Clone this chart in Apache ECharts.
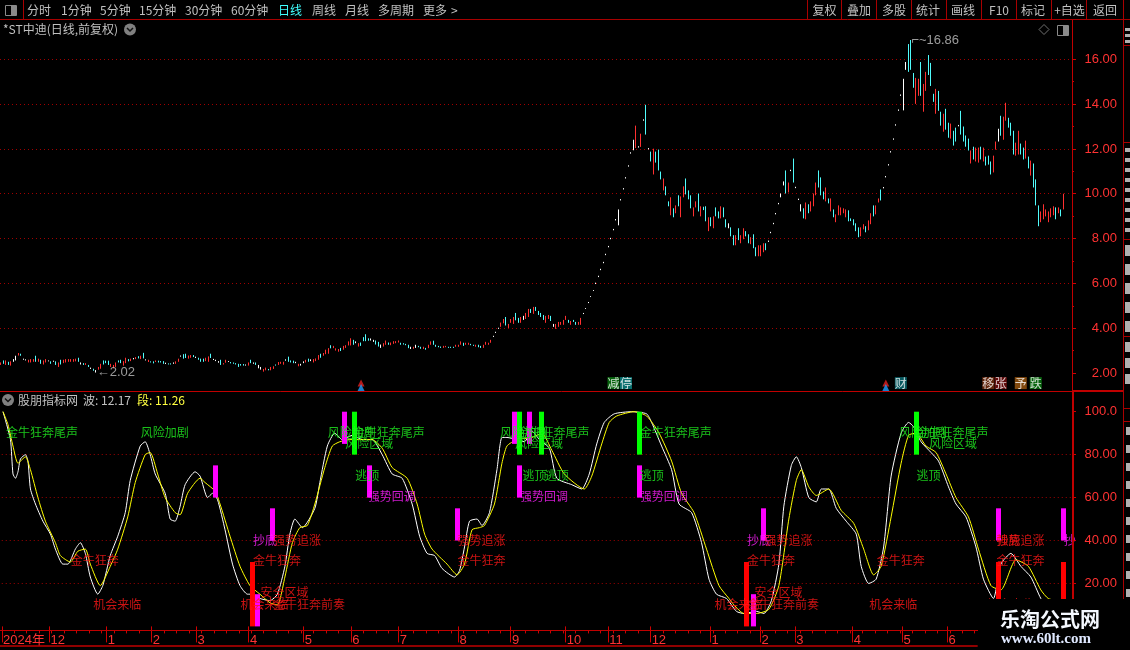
<!DOCTYPE html>
<html><head><meta charset="utf-8">
<style>html,body{margin:0;padding:0;background:#000}#c{width:1130px;height:650px}</style>
<script src="https://cdn.jsdelivr.net/npm/echarts@6/dist/echarts.min.js"></script>
</head><body><div id="c"></div>
<script>
// ---- price bars: [low, high, direction] direction 1 up, -1 down, 0 flat
const priceBarsA=[[2.36,2.47,1],[2.41,2.56,-1],[2.36,2.56,1],[2.36,2.50,-1],[2.33,2.52,1],[2.50,2.62,0],[2.56,2.77,0],[2.78,2.89,1],[2.77,2.86,-1],[2.59,2.64,0],[2.56,2.61,0],[2.47,2.59,1],[2.47,2.62,1],[2.50,2.62,1],[2.50,2.77,-1],[2.50,2.64,1],[2.41,2.59,-1],[2.38,2.56,1],[2.47,2.62,1],[2.52,2.56,0],[2.41,2.52,-1],[2.50,2.55,0],[2.36,2.52,-1],[2.27,2.47,1],[2.38,2.59,-1],[2.44,2.59,1],[2.47,2.62,1],[2.50,2.62,1],[2.50,2.62,1],[2.50,2.62,1],[2.52,2.64,1],[2.50,2.68,-1],[2.38,2.47,0],[2.36,2.44,-1],[2.36,2.44,1],[2.27,2.36,-1],[2.18,2.24,0],[2.10,2.19,-1],[2.02,2.13,0],[2.15,2.27,1],[2.19,2.41,1],[2.38,2.56,-1],[2.44,2.55,-1],[2.36,2.55,-1],[2.27,2.41,1],[2.21,2.36,1],[2.27,2.47,1],[2.47,2.56,-1],[2.44,2.59,-1],[2.33,2.53,1],[2.44,2.68,1],[2.52,2.62,-1],[2.53,2.64,1],[2.61,2.67,0],[2.62,2.71,1],[2.65,2.75,-1],[2.62,2.77,1],[2.65,2.90,-1],[2.56,2.61,0],[2.49,2.59,1],[2.47,2.52,-1],[2.43,2.52,-1],[2.49,2.56,1],[2.47,2.55,-1],[2.47,2.53,-1],[2.41,2.53,-1],[2.40,2.46,0],[2.38,2.43,-1],[2.38,2.43,-1],[2.41,2.47,0],[2.41,2.52,1],[2.50,2.64,1],[2.73,2.78,0],[2.64,2.84,-1],[2.67,2.86,-1],[2.64,2.78,1],[2.68,2.80,1],[2.71,2.80,-1],[2.67,2.73,0],[2.59,2.68,-1],[2.50,2.64,-1],[2.50,2.64,-1],[2.53,2.68,1],[2.50,2.74,1],[2.67,2.86,-1],[2.58,2.63,0],[2.53,2.59,0],[2.46,2.53,0],[2.36,2.59,-1],[2.38,2.44,1],[2.46,2.59,1],[2.49,2.53,0],[2.43,2.49,-1],[2.41,2.47,-1],[2.38,2.44,-1],[2.27,2.41,-1],[2.33,2.40,-1],[2.33,2.40,-1],[2.33,2.38,0],[2.33,2.47,1],[2.44,2.59,-1],[2.41,2.47,0],[2.36,2.47,-1],[2.21,2.36,0],[2.15,2.27,0],[2.06,2.18,1],[2.12,2.24,1],[2.12,2.18,-1],[2.12,2.27,1],[2.18,2.30,1],[2.33,2.38,-1],[2.36,2.49,1],[2.41,2.50,1],[2.37,2.50,1],[2.55,2.61,0],[2.50,2.73,-1],[2.47,2.56,-1],[2.44,2.55,-1],[2.44,2.50,0],[2.30,2.41,1],[2.33,2.41,0],[2.44,2.52,0],[2.47,2.59,1],[2.50,2.64,-1],[2.53,2.61,0],[2.47,2.62,1],[2.53,2.65,1],[2.59,2.80,1],[2.68,2.86,-1],[2.77,2.89,1],[2.84,3.04,1],[2.86,3.11,1],[3.10,3.24,-1],[3.11,3.21,1],[3.00,3.10,1],[2.95,3.07,1],[2.98,3.12,-1],[3.04,3.21,1],[3.12,3.24,1],[3.23,3.41,1],[3.23,3.55,1],[3.26,3.48,-1],[3.33,3.41,0],[3.18,3.33,1],[3.21,3.36,-1],[3.42,3.60,-1],[3.42,3.73,-1],[3.44,3.55,-1],[3.45,3.54,0],[3.39,3.48,0],[3.27,3.45,-1],[3.18,3.39,-1],[3.12,3.27,0],[3.18,3.33,1],[3.26,3.45,1],[3.26,3.36,-1],[3.24,3.36,1],[3.30,3.42,1],[3.33,3.42,1],[3.36,3.45,1]];
const priceBarsB=[[3.26,3.35,-1],[3.27,3.33,-1],[3.24,3.30,-1],[3.11,3.26,-1],[3.07,3.17,0],[3.08,3.17,1],[3.12,3.26,0],[3.15,3.21,-1],[3.08,3.17,-1],[3.07,3.17,1],[3.04,3.12,-1],[3.11,3.26,1],[3.26,3.41,1],[3.26,3.44,-1],[3.17,3.26,-1],[3.15,3.21,-1],[3.12,3.18,-1],[3.12,3.21,1],[3.15,3.21,1],[3.12,3.17,-1],[3.12,3.17,-1],[3.12,3.17,-1],[3.17,3.26,1],[3.17,3.26,1],[3.26,3.41,1],[3.21,3.35,-1],[3.26,3.35,1],[3.26,3.35,1],[3.24,3.30,-1],[3.21,3.26,-1],[3.17,3.26,1],[3.15,3.26,-1],[3.12,3.21,-1],[3.12,3.26,1],[3.26,3.39,1],[3.26,3.35,1],[3.35,3.48,1],[3.61,3.66,0],[3.79,3.84,0],[3.97,4.02,0],[4.06,4.25,1],[4.22,4.41,1],[4.12,4.50,-1],[4.01,4.19,1],[4.24,4.41,1],[4.19,4.50,1],[4.35,4.68,-1],[4.24,4.46,-1],[4.24,4.50,1],[4.37,4.55,0],[4.41,4.68,1],[4.50,4.86,1],[4.68,4.86,-1],[4.64,4.95,1],[4.77,4.95,-1],[4.59,4.77,-1],[4.50,4.68,-1],[4.37,4.59,-1],[4.24,4.55,1],[4.41,4.59,1],[4.32,4.55,-1],[4.06,4.19,0],[3.97,4.19,1],[4.06,4.28,1],[4.15,4.28,1],[4.15,4.37,1],[4.37,4.55,1],[4.24,4.37,-1],[4.15,4.32,1],[4.28,4.37,-1],[4.15,4.28,-1],[4.15,4.28,1],[4.15,4.46,1],[4.63,4.68,0],[4.86,4.90,0],[5.12,5.17,0],[5.39,5.43,0],[5.66,5.70,0]];
const priceBarsC=[[5.97,6.03,0],[6.28,6.34,0],[6.59,6.65,0],[6.90,6.96,0],[7.26,7.32,0],[7.61,7.67,0],[7.97,8.03,0],[8.37,8.43,0],[8.81,8.87,0],[8.59,9.30,0],[9.70,9.76,0],[10.19,10.25,0],[10.68,10.74,0],[11.21,11.27,0],[11.79,11.85,0],[11.94,12.41,0],[12.04,13.04,1],[12.06,12.12,0],[12.09,12.68,1],[13.26,13.32,0],[12.64,13.97,-1],[11.98,12.04,0],[11.44,11.88,-1],[10.86,12.01,1],[11.39,11.88,-1],[11.04,11.97,-1],[10.64,10.99,-1],[10.15,10.68,1],[9.93,10.33,-1],[9.44,9.66,-1],[9.04,9.84,1]];
const priceBarsD=[[8.95,9.35,-1],[9.13,9.48,1],[9.44,9.93,-1],[8.95,9.88,1],[9.84,10.33,1],[9.97,10.68,-1],[9.75,10.15,-1],[9.35,9.93,-1],[8.99,9.39,1],[9.39,9.66,1],[9.21,10.01,-1],[8.99,9.44,1],[9.27,9.42,-1],[8.77,9.44,-1],[8.33,8.95,1],[8.55,8.95,-1],[8.46,8.99,1],[8.99,9.39,-1],[8.90,9.21,-1],[8.90,9.44,1],[8.95,9.39,-1],[8.50,8.86,-1],[8.46,8.68,0],[8.10,8.50,-1],[7.70,8.15,-1],[7.70,8.15,1],[7.93,8.46,-1],[7.79,8.15,1],[7.97,8.46,1],[8.10,8.33,-1],[7.79,8.19,-1],[7.75,8.06,1],[7.57,8.19,-1],[7.21,7.61,-1],[7.21,7.70,1],[7.21,7.70,1],[7.39,7.79,1],[7.48,7.79,-1],[7.85,7.91,0],[8.24,8.30,0],[8.64,8.70,0],[9.08,9.14,0],[9.53,9.59,0],[9.84,10.01,0],[10.37,10.55,0],[10.01,11.04,-1],[10.06,10.50,1],[11.01,11.07,0],[10.50,11.57,-1],[10.25,10.31,0],[9.72,9.78,0],[9.21,9.53,0],[8.90,9.35,-1],[8.86,9.61,1],[9.13,9.53,-1],[9.21,9.66,1],[9.44,10.01,1],[9.93,10.50,1],[10.28,11.04,-1],[9.93,10.73,-1],[9.75,10.10,-1],[9.66,10.28,1],[9.57,9.79,-1],[9.21,9.79,1],[8.95,9.30,-1],[8.73,9.08,1],[9.04,9.48,1],[9.04,9.39,1],[9.13,9.35,1],[8.95,9.30,1],[8.77,9.26,-1],[8.78,8.90,-1],[8.59,8.86,-1],[8.33,8.68,-1],[8.06,8.50,-1],[8.10,8.50,1],[8.41,8.64,1],[8.28,8.55,-1],[8.37,8.81,1],[8.64,9.13,1],[8.99,9.48,-1],[9.08,9.48,1],[9.61,9.79,1],[9.70,10.19,-1]];
const priceBarsE=[[10.24,10.30,0],[10.73,10.79,0],[11.26,11.32,0],[11.84,11.90,0],[12.41,12.47,0],[13.04,13.10,0],[13.70,13.76,0],[14.37,14.43,0],[13.72,15.13,0],[15.53,15.88,0],[15.44,16.68,-1],[15.53,16.86,-1],[14.73,15.39,-1],[14.01,15.17,1],[14.37,15.13,1],[14.37,15.88,-1],[13.66,14.90,1],[14.59,15.44,1],[15.30,16.19,-1],[14.81,15.84,-1],[14.10,14.46,-1],[13.57,14.68,1],[13.70,14.59,-1],[13.04,13.66,-1],[12.77,13.57,1],[12.86,13.79,-1],[12.50,13.17,-1],[12.46,13.13,1],[12.15,12.81,-1],[12.33,12.95,-1],[13.01,13.07,0],[12.64,13.70,-1],[12.33,13.00,-1],[12.10,12.60,-1],[11.93,12.46,-1],[11.35,11.93,1],[11.53,12.10,-1],[11.44,12.06,1],[11.39,12.06,1],[11.53,12.10,-1],[11.44,12.06,1],[11.26,11.66,-1],[11.30,11.70,-1],[10.86,11.44,-1],[10.95,11.70,1],[11.97,12.33,1],[12.33,12.90,0],[12.59,13.48,-1],[12.41,13.44,1],[13.26,14.06,1],[12.95,13.39,-1],[12.59,13.17,-1],[11.75,12.81,-1],[11.70,12.28,1],[11.75,12.81,1],[11.75,12.24,-1],[11.53,12.06,-1],[11.57,12.37,1],[11.13,11.66,-1],[10.81,11.48,1],[10.28,11.35,-1],[9.48,10.64,-1],[8.55,9.48,-1],[8.73,9.21,1],[8.86,9.53,1],[8.99,9.30,1],[8.73,9.21,1],[8.95,9.35,1],[9.04,9.44,1],[8.86,9.39,-1],[9.13,9.39,1],[8.99,9.30,-1],[9.30,10.00,1]];

// ---- indicator lines, read at turning points: bar index and value
const waveIdx=[0,1,3,4,5,6,7,9,10,11,13,16,19,21,24,26,29,31,33,35,38,40,43,46,49,51,55,57,59,61,65,67,69,71,73,77,79,82,84,86,89,92,95,98,100,103,107,110,113,115,117,120,125,127,130,133,136,140,144,148,152,156,160,164,167,170,173,176,181,183,185,187,190,192,195,198,200,202,206,209,212,215,219,222,228,232,235,238,241,245,252,258,260,264,268,271,276,280,283,286,290,294,297,302,305,308,311,313,316,318,320,323,326,328,331,334,338,342,344,347,350,353,356,360,363,365,368,372,375,379,382,386,390,393,397,400,404,408,412,416,420,425];
const waveVal=[100,96,87,71,69,72,78,80,77,64,57,49,43,36,29,29,36,39,34,23,15,19,33,42,53,68,84,86,80,71,62,50,49,56,66,72,70,60,62,59,45,29,19,15,15,13,12,15,28,43,50,46,55,67,84,90,87,89,87,87,80,71,69,57,42,34,33,27,23,26,37,49,50,47,53,73,88,88,87,86,91,87,83,69,66,64,71,85,95,99,100,99,95,84,73,57,53,39,22,15,13,7,6,7,6,12,29,56,75,79,74,60,58,64,64,55,49,43,28,20,22,37,70,90,95,93,86,81,77,65,57,51,37,22,13,29,34,28,23,13,6,12.17];
const segIdx=[0,2,4,6,9,11,14,17,21,23,27,30,33,35,39,43,46,50,53,57,59,62,65,69,71,74,79,81,85,87,91,95,99,103,107,110,113,116,119,122,125,129,132,135,139,144,148,152,156,162,166,169,172,178,182,185,188,191,193,197,200,202,206,212,216,220,225,233,236,240,243,246,253,258,263,268,272,277,282,287,291,293,297,302,307,311,315,318,320,323,326,331,336,341,345,349,352,356,360,363,366,370,374,378,382,387,391,396,400,406,411,416,419,425];
const segVal=[100,94,84,76,79,73,60,49,39,33,30,35,36,29,19,28,36,51,67,80,81,71,60,53,52,62,69,67,63,57,42,28,19,15,11,10,23,39,46,47,57,74,84,86,87,87,87,83,74,69,57,43,36,29,24,29,45,46,47,57,76,84,87,88,90,82,71,64,70,85,95,98,100,98,90,77,62,53,36,19,13,10,6,6,8,19,50,68,73,65,61,64,54,48,36,24,28,51,76,89,90,84,81,71,60,51,36,19,17,31,28,17,13,11.26];

// ---- signal bars of the indicator
const sigIdx =[85,100,102,108,137,141,147,182,205,207,207,211,216,255,255,298,301,305,366,399,399,425,425];
const sigLow =[60,0,0,40,85,80,60,40,85,60,80,85,80,80,60,0,0,40,80,40,0,40,0];
const sigHigh=[75,30,15,55,100,100,75,55,100,75,100,100,100,100,75,30,15,55,100,55,30,55,30];
const sigKind=['m','r','m','m','m','g','m','m','m','m','g','m','g','g','m','r','m','m','g','m','r','m','r'];

// ---- signal texts of the indicator
const noteText=['金牛狂奔尾声','风险加剧','风险加剧','金牛狂奔尾声','风险区域','逃顶','强势回调','风险加剧','金牛狂奔尾声','风险区域','逃顶','逃顶','强势回调','金牛狂奔尾声','逃顶','强势回调','金牛狂奔','机会来临','抄底','强势追涨','金牛狂奔','安全区域','机会来临','金牛狂奔前奏','强势追涨','金牛狂奔','抄底','强势追涨','金牛狂奔','安全区域','机会来临','金牛狂奔前奏','金牛狂奔','机会来临','风险加剧','金牛狂奔尾声','风险区域','逃顶','抄底','强势追涨','金牛狂奔','抄','机会来临'];
const noteIdx =[1,55,130,140,137,141,146,199,206,205,208,217,207,255,255,255,27,36,100,108,100,103,95,108,182,182,298,305,298,301,285,298,350,347,359,366,371,366,398,398,398,425,394];
const noteVal =[90.5,90.5,90.5,90.5,85.4,70.5,60.3,90.5,90.5,85.4,70.5,70.5,60.3,90.5,70.5,60.3,30.5,10.4,40.2,40.2,30.5,15.6,10.4,10.4,40.2,30.5,40.2,40.2,30.5,15.6,10.4,10.4,30.5,10.4,90.5,90.5,85.4,70.5,40.2,40.2,30.5,40.2,10.4];
const noteKind=['g','g','g','g','g','g','m','g','g','g','g','g','m','g','g','m','r','r','m','r','r','r','r','r','r','r','m','r','r','r','r','r','r','r','g','g','g','g','r','r','r','m','r'];

// ---- event tags under the price chart
const tagText=['减','停','财','移','张','予','跌'];
const tagIdx =[245,250,360,395,400,408,414];
const tagVal =[1.55,1.55,1.55,1.55,1.55,1.55,1.55];
const tagFill=['#0a7d12','#0a8a8a','#0a6f78','#7a3010','#7a1010','#a05a10','#0a7d12'];
const arrowIdx=[144,144,354,354];
const arrowVal=[1.55,1.35,1.55,1.35];
const arrowColor=['#e02020','#20a0ff','#e02020','#20a0ff'];

// ---- price extremes
const lowMark={idx:38,val:2.02,text:'←2.02'};
const highMark={idx:364,val:16.86,text:'⌐~16.86'};

// ---- axis ticks
const slotCount=429;
const monthIdx=[0,19,42,60,78,99,121,140,159,183,204,226,243,260,284,304,318,341,361,379];
const monthText=['2024年','12','1','2','3','4','5','6','7','8','9','10','11','12','1','2','3','4','5','6'];
const priceTicks={min:2,max:16,interval:2};
const oscTicks={min:0,max:100,interval:20};
const legendWave=12.17, legendSeg=11.26;

const CJK='"Noto Sans CJK SC","Liberation Sans",sans-serif';
const NUM='"Liberation Sans","Noto Sans CJK SC","DejaVu Sans",sans-serif';
const RED='#ff3232', LINE='#a80000', DOT='#a00000', GRAY='#c0c0c0';
const palette={m:'#ff00ff',g:'#00ff00',r:'#ff0000'};
const textPalette={m:'#ff20ff',g:'#20f020',r:'#ff1818'};

const cats=new Array(slotCount).fill('');
monthIdx.forEach((i,k)=>{cats[i]=monthText[k];});
const isMonth=(i)=>monthIdx.indexOf(i)>=0;
const bars=[].concat(priceBarsA,priceBarsB,priceBarsC,priceBarsD,priceBarsE);
const candle=bars.map(b=>{
  const l=b[0],h=b[1],d=b[2];
  if(d>0) return [l,h,l,h];
  if(d<0) return [h,l,l,h];
  const m=(l+h)/2; return [m,m,l,h];
});

// ---- screen furniture
function T(x,y,text,fill,opt){opt=opt||{};
  return {type:'text',silent:true,z:opt.z||50,style:{x:x,y:y,text:text,fill:fill,font:(opt.w||'normal')+' '+(opt.s||12)+'px '+(opt.f||CJK),align:opt.a||'left',verticalAlign:'middle',textAlign:opt.a||'left',textVerticalAlign:'middle'}};
}
function L(x1,y1,x2,y2,c,w,z){return {type:'line',silent:true,z:z||40,shape:{x1:x1,y1:y1,x2:x2,y2:y2},style:{stroke:c||LINE,lineWidth:w||1}};}
function R(x,y,w,h,fill,z,stroke){return {type:'rect',silent:true,z:z||40,shape:{x:x,y:y,width:w,height:h},style:{fill:fill,stroke:stroke||null}};}
const furn=[];
[['分时',27],['1分钟',61],['5分钟',100],['15分钟',139],['30分钟',185],['60分钟',231],['周线',312],['月线',345],['多周期',378],['更多',423],['>',451]].forEach(a=>furn.push(T(a[1],10,a[0],GRAY)));
furn.push(T(278,10,'日线','#40ffff'));
[['复权',824.5],['叠加',859],['多股',894],['统计',928],['画线',963],['F10',999],['标记',1033],['+自选',1069.5],['返回',1105]].forEach(a=>furn.push(T(a[1],10,a[0],GRAY,{a:'center'})));
[807,841,876,911,946,981,1016,1051,1086,1123].forEach(x=>furn.push(L(x+.5,0,x+.5,19)));
furn.push(L(23.5,0,23.5,19));
furn.push(L(0,19.5,1130,19.5));
furn.push(R(5.5,5.5,11,10,'#000',41,'#8a8a8a'),R(11,6,5,9,'#8a8a8a',42));
furn.push(R(1057.5,25.5,11,10,'#000',41,'#8a8a8a'),R(1063,26,5,9,'#8a8a8a',42));
furn.push({type:'polygon',silent:true,z:42,shape:{points:[[1044,24.5],[1049,29.5],[1044,34.5],[1039,29.5]]},style:{fill:'none',stroke:'#707070'}});
furn.push(T(3,29,'*ST中迪(日线,前复权)',GRAY));
[[130,29.5],[8,400]].forEach(p=>{
  furn.push({type:'circle',silent:true,z:42,shape:{cx:p[0],cy:p[1],r:6},style:{fill:'#808080'}});
  furn.push({type:'polyline',silent:true,z:43,shape:{points:[[p[0]-3,p[1]-1.5],[p[0],p[1]+1.5],[p[0]+3,p[1]-1.5]]},style:{fill:'none',stroke:'#111',lineWidth:1.5}});
});
furn.push(T(18,400,'股朋指标网',GRAY));
furn.push(T(83,400,'波: '+legendWave.toFixed(2),GRAY));
furn.push(T(137,400,'段: '+legendSeg.toFixed(2),'#ffff40'));
furn.push(L(1072.5,20,1072.5,630,'#c00000',1));
furn.push(L(1073.5,392,1073.5,630,'#c00000',1));
furn.push(L(1123.5,20,1123.5,599));
furn.push(L(0,391.5,1123,391.5,'#c00000',1));
furn.push(L(1073,390.5,1123,390.5,'#c00000',1));
furn.push(L(0,630.5,1123,630.5,'#c00000',1));
furn.push(L(0,646,978,646,'#c00000',1));
[45,142,239,336].forEach(y=>furn.push(L(1123,y+.5,1130,y+.5)));
[408,421].forEach(y=>furn.push(L(1123,y+.5,1130,y+.5)));
for(let y=148;y<236;y+=10) furn.push(R(1125,y,5,4,'#b0b0b0',41));
for(let y=28;y<42;y+=6) furn.push(R(1125,y,5,3,'#b0b0b0',41));
for(let y=245;y<335;y+=19) furn.push(R(1125,y,5,11,'#b0b0b0',41));
for(let y=342;y<388;y+=16) furn.push(R(1125,y,5,10,'#b0b0b0',41));
for(let y=427;y<598;y+=18) furn.push(R(1126,y,4,8,'#b0b0b0',41));
// watermark
furn.push(R(977,599,153,51,'#000',90));
furn.push(T(1050,619,'乐淘公式网','#f4f8ff',{a:'center',s:20,w:'bold',z:91}));
furn.push(T(1046,639,'www.60lt.com','#dfe8ff',{a:'center',s:15,w:'bold',f:'"Liberation Serif",serif',z:91}));
furn.push(L(0,630.5,978,630.5,'#c00000',1,92));
furn.push(L(0,646,978,646,'#c00000',1,92));

function yAxisFor(grid,t,fmt){return {
  type:'value',gridIndex:grid,position:'right',min:t.min,max:t.max,interval:t.interval,
  axisLine:{show:false},
  axisTick:{show:true,length:4,lineStyle:{color:'#d00000'}},
  minorTick:{show:true,splitNumber:2,length:2,lineStyle:{color:'#d00000'}},
  axisLabel:{color:RED,fontSize:13,fontFamily:NUM,align:'right',margin:45,formatter:fmt,showMinLabel:grid===0,showMaxLabel:true},
  splitLine:{show:true,showMinLine:false,showMaxLine:grid===0,lineStyle:{color:DOT,type:[1,3],width:1}},
};}

const option={
  backgroundColor:'#000',animation:false,
  grid:[{left:0,width:1072,top:59.3,height:313.7},{left:0,width:1072,top:411.7,height:214.7}],
  xAxis:[
    {type:'category',gridIndex:0,data:cats,show:false},
    {type:'category',gridIndex:1,data:cats,offset:4,position:'bottom',
      axisLine:{show:false},
      axisTick:{show:true,length:16,interval:(i)=>isMonth(i),lineStyle:{color:'#d00000'}},
      axisLabel:{show:true,interval:(i)=>isMonth(i),color:RED,fontSize:13,fontFamily:NUM,align:'left',margin:4,formatter:(v)=>v}},
    {type:'category',gridIndex:1,data:cats,offset:4,position:'bottom',
      axisLine:{show:false},axisLabel:{show:false},
      axisTick:{show:true,length:3,interval:4,lineStyle:{color:'#d00000'}}}
  ],
  yAxis:[
    yAxisFor(0,priceTicks,(v)=>v.toFixed(2)),
    yAxisFor(1,oscTicks,(v)=>v===100?'100.0':v.toFixed(2))
  ],
  series:[
    {type:'candlestick',xAxisIndex:0,yAxisIndex:0,data:candle,barWidth:1,clip:false,large:false,
      itemStyle:{color:'#ff3030',color0:'#50fcfc',borderColor:'#ff3030',borderColor0:'#50fcfc',borderColorDoji:'#ffffff',borderWidth:1}},
    {type:'scatter',xAxisIndex:0,yAxisIndex:0,clip:false,symbolSize:1,itemStyle:{color:'transparent'},z:6,
      data:[lowMark,highMark].map(m=>({value:[m.idx,m.val],label:{show:true,position:'right',distance:0,formatter:m.text,color:GRAY,fontSize:13,fontFamily:NUM}}))},
    {type:'scatter',xAxisIndex:0,yAxisIndex:0,clip:false,symbolSize:1,itemStyle:{color:'transparent'},z:6,
      data:tagText.map((t,k)=>({value:[tagIdx[k],tagVal[k]],label:{show:true,position:'inside',formatter:t,color:'#fff',fontSize:12,fontFamily:CJK,lineHeight:12,backgroundColor:tagFill[k],padding:[0,0,0,0]}}))},
    {type:'scatter',xAxisIndex:0,yAxisIndex:0,clip:false,symbol:'triangle',symbolSize:7,z:6,
      data:arrowIdx.map((i,k)=>({value:[i,arrowVal[k]],itemStyle:{color:arrowColor[k]}}))},
    {type:'line',xAxisIndex:1,yAxisIndex:1,data:waveIdx.map((i,k)=>[i,waveVal[k]]),showSymbol:false,smooth:0.2,clip:false,lineStyle:{color:'#ffffff',width:1},z:3},
    {type:'line',xAxisIndex:1,yAxisIndex:1,data:segIdx.map((i,k)=>[i,segVal[k]]),showSymbol:false,smooth:0.2,clip:false,lineStyle:{color:'#ffff00',width:1},z:3},
    {type:'custom',xAxisIndex:1,yAxisIndex:1,z:4,clip:false,
      data:sigIdx.map((i,k)=>[i,sigLow[k],sigHigh[k]]),
      renderItem:(p,api)=>{
        const a=api.coord([api.value(0),api.value(2)]),b=api.coord([api.value(0),api.value(1)]);
        return {type:'rect',shape:{x:Math.round(a[0]-2.5),y:a[1],width:5,height:b[1]-a[1]},style:{fill:palette[sigKind[p.dataIndex]]}};
      },encode:{x:0,y:[1,2]}},
    {type:'scatter',xAxisIndex:1,yAxisIndex:1,clip:false,symbolSize:1,itemStyle:{color:'transparent'},z:5,
      data:noteText.map((t,k)=>({value:[noteIdx[k],noteVal[k]],label:{show:true,position:'right',distance:0,formatter:t,color:textPalette[noteKind[k]],fontSize:12,fontFamily:CJK}}))}
  ],
  graphic:{elements:furn}
};
const chart=echarts.init(document.getElementById('c'),null,{renderer:'canvas',width:1130,height:650});
chart.setOption(option);
</script></body></html>
